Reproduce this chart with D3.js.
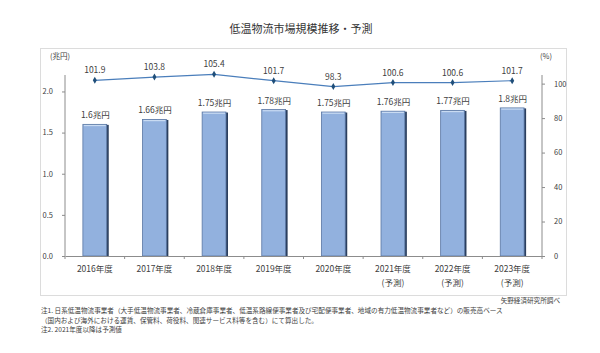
<!DOCTYPE html>
<html><head><meta charset="utf-8">
<script src="https://cdn.jsdelivr.net/npm/d3@7"></script>
<style>
body{margin:0;background:#fff;}
svg text{font-family:"Noto Sans CJK JP","Noto Sans",sans-serif;fill:#404040;}
</style></head>
<body><svg id="c" width="600" height="353"></svg>
<script>
const categories = ["2016年度","2017年度","2018年度","2019年度","2020年度","2021年度","2022年度","2023年度"];
const subLabels = ["","","","","","(予測)","(予測)","(予測)"];
const marketSize = [1.6,1.66,1.75,1.78,1.75,1.76,1.77,1.8];
const barLabels = ["1.6兆円","1.66兆円","1.75兆円","1.78兆円","1.75兆円","1.76兆円","1.77兆円","1.8兆円"];
const growthRate = [101.9,103.8,105.4,101.7,98.3,100.6,100.6,101.7];
const leftTicks = [0,0.5,1.0,1.5,2.0];
const rightTicks = [0,20,40,60,80,100];
const notes = [
 "注1. 日系低温物流事業者（大手低温物流事業者、冷蔵倉庫事業者、低温系路線便事業者及び宅配便事業者、地域の有力低温物流事業者など）の販売高ベース",
 "（国内および海外における運賃、保管料、荷役料、関連サービス料等を含む）にて算出した。",
 "注2. 2021年度以降は予測値"
];

const svg = d3.select("#c");
const L = 65, R = 542, T = 75, B = 256;

svg.append("text").attr("x",301).attr("y",33).attr("text-anchor","middle")
  .style("font-size","11px").style("fill","#333").text("低温物流市場規模推移・予測");

svg.append("rect").attr("x",40.5).attr("y",48.5).attr("width",526).attr("height",247)
  .attr("fill","#fff").attr("stroke","#dcdcdc");

const x = d3.scaleBand().domain(categories).range([L,R]).paddingInner(0.6).paddingOuter(0.3);
const xc = d3.scaleBand().domain(categories).range([L,R]);
const yL = d3.scaleLinear().domain([0,2.2]).range([B,T]);
const yR = d3.scaleLinear().domain([0,105]).range([B,T]);

// bars
const g = svg.append("g");
categories.forEach((c,i)=>{
  const bx = x(c), bw = x.bandwidth(), by = yL(marketSize[i]);
  g.append("rect").attr("x",bx+1).attr("y",by+0.5).attr("width",bw+1).attr("height",B-by-0.5).attr("fill","#2b3f5e");
  g.append("rect").attr("x",bx).attr("y",by).attr("width",bw).attr("height",B-by)
    .attr("fill","#92b1de").attr("stroke","#5a77a3").attr("stroke-width",0.8);
  g.append("line").attr("x1",bx+1).attr("x2",bx+bw-1).attr("y1",by+1.2).attr("y2",by+1.2)
    .attr("stroke","#c9dbf2").attr("stroke-width",1.2);
  g.append("text").attr("x",bx+bw/2+0.5).attr("y",by-6).attr("text-anchor","middle")
    .style("font-size","8.5px").text(barLabels[i]);
});

// axes
const axL = svg.append("g").attr("transform",`translate(${L},0)`)
  .call(d3.axisLeft(yL).tickValues(leftTicks).tickFormat(d3.format(".1f")).tickSize(3).tickPadding(9));
const axR = svg.append("g").attr("transform",`translate(${R},0)`)
  .call(d3.axisRight(yR).tickValues(rightTicks).tickSize(3).tickPadding(9));
const axB = svg.append("g").attr("transform",`translate(0,${B})`)
  .call(d3.axisBottom(xc).tickSize(0).tickFormat(""));
[axL,axR,axB].forEach(a=>{
  a.select(".domain").attr("stroke","#8c8c8c");
  a.selectAll(".tick line").attr("stroke","#8c8c8c");
  a.selectAll("text").style("font-size","7.5px").style("fill","#404040");
});
axL.select(".domain").attr("d",`M0,${T}V${B}`);
axR.select(".domain").attr("d",`M0,${T}V${B}`);
// category boundary ticks
svg.append("g").selectAll("line").data(d3.range(categories.length+1)).join("line")
  .attr("x1",i=>L+i*xc.step()).attr("x2",i=>L+i*xc.step()).attr("y1",B).attr("y2",B+3)
  .attr("stroke","#8c8c8c");
// x labels
categories.forEach((c,i)=>{
  const cx = xc(c)+xc.bandwidth()/2;
  svg.append("text").attr("x",cx).attr("y",272).attr("text-anchor","middle").style("font-size","8.5px").text(c);
  if(subLabels[i]) svg.append("text").attr("x",cx).attr("y",286).attr("text-anchor","middle").style("font-size","8.5px").text(subLabels[i]);
});

// line
const line = d3.line().x((d,i)=>xc(categories[i])+xc.bandwidth()/2).y(d=>yR(d));
svg.append("path").datum(growthRate).attr("d",line).attr("fill","none").attr("stroke","#4a7ebb").attr("stroke-width",1.2);
svg.append("g").selectAll("path").data(growthRate).join("path")
  .attr("transform",(d,i)=>`translate(${xc(categories[i])+xc.bandwidth()/2},${yR(d)})`)
  .attr("d",d3.symbol().type(d3.symbolDiamond).size(14)).attr("fill","#1f4e79");
growthRate.forEach((d,i)=>{
  svg.append("text").attr("x",xc(categories[i])+xc.bandwidth()/2).attr("y",yR(d)-7).attr("text-anchor","middle")
    .style("font-size","8.5px").text(d.toFixed(1));
});
// units
svg.append("text").attr("x",50).attr("y",59).style("font-size","7.5px").text("(兆円)");
svg.append("text").attr("x",540).attr("y",59).style("font-size","7.5px").text("(%)");

// source & notes
svg.append("text").attr("x",560).attr("y",302.5).attr("text-anchor","end").style("font-size","6.6px").text("矢野経済研究所調べ");
notes.forEach((t,i)=>{
  svg.append("text").attr("x",41).attr("y",[313,322.7,332.4][i]).style("font-size","6.6px").text(t);
});
</script></body></html>
